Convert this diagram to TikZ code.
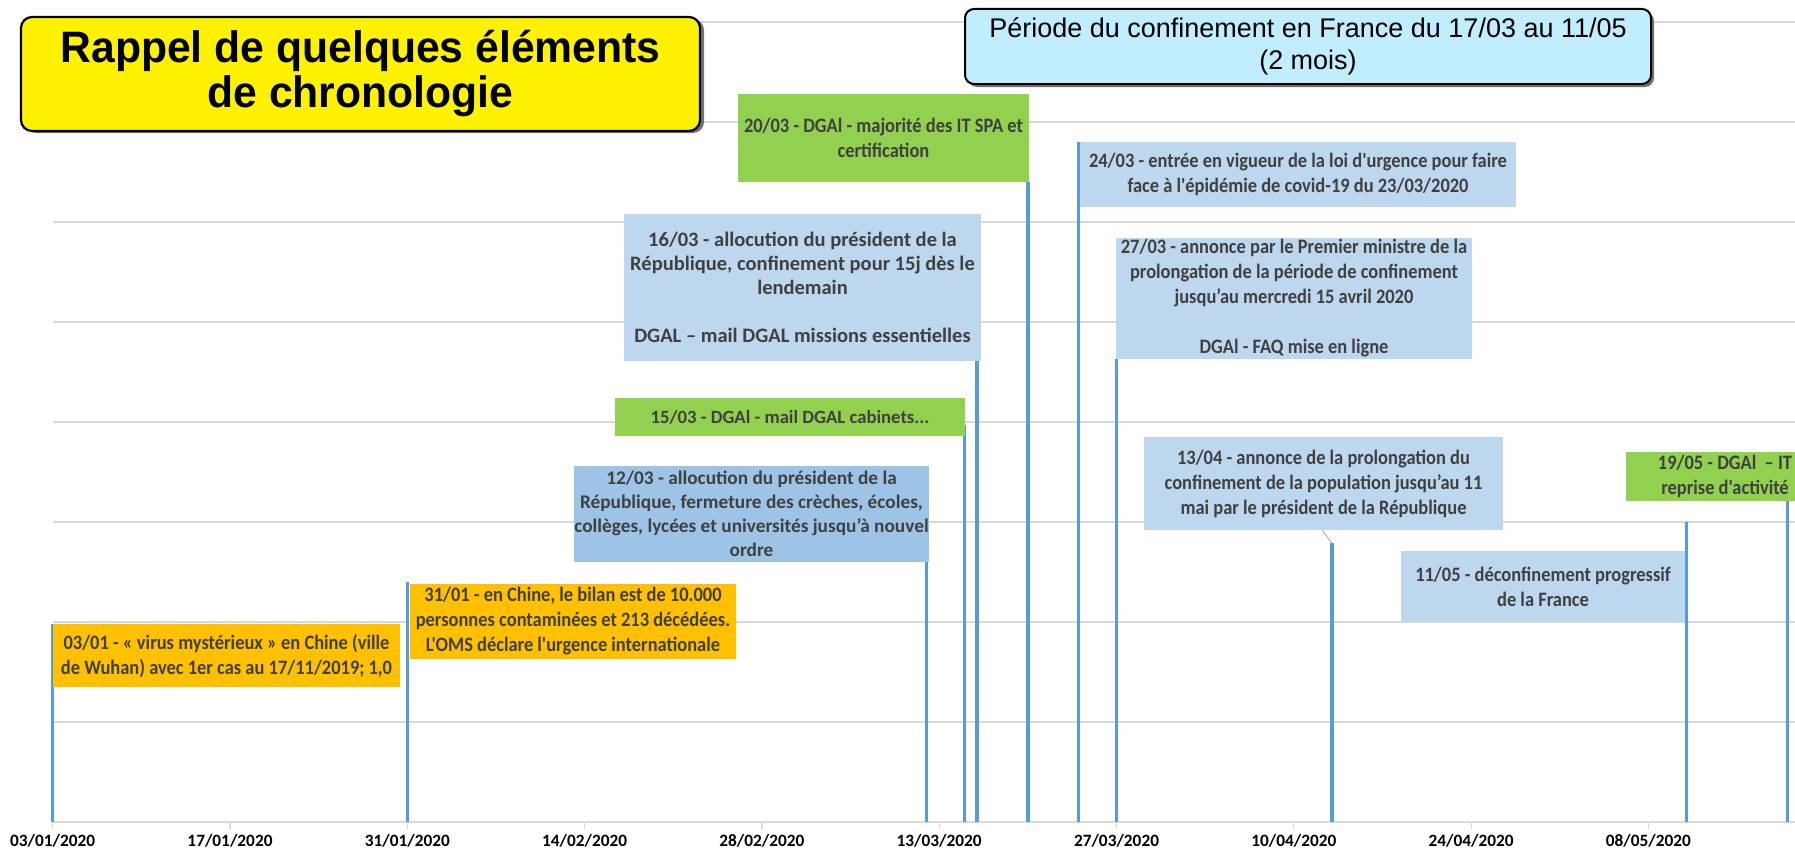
\documentclass[tikz,border=0pt]{standalone}
\usepackage{fontspec}
\setmainfont{Carlito}
\newfontfamily\calN{Carlito}
\newfontfamily\calC{Carlito}[FakeStretch=0.9]
\newfontfamily\arialT{Liberation Sans}[FakeStretch=0.97]
\newfontfamily\arialR{Liberation Sans}
\definecolor{orangeC}{HTML}{FFC000}
\definecolor{greenC}{HTML}{92D050}
\definecolor{lblue}{HTML}{BDD7EE}
\definecolor{mblue}{HTML}{9DC3E6}
\definecolor{stemC}{HTML}{5B9BD5}
\definecolor{gridC}{HTML}{D9D9D9}
\definecolor{txtC}{HTML}{404040}
\definecolor{cyanC}{HTML}{C1EEFF}
\tikzset{
  evN/.style={inner sep=0pt, align=center, text=txtC, font=\calN\bfseries\fontsize{20.5}{24}\selectfont},
  evC/.style={inner sep=0pt, align=center, text=txtC, font=\calC\bfseries\fontsize{20.5}{25}\selectfont},
  stem/.style={draw=stemC, line width=3.5pt},
  gridline/.style={draw=gridC, line width=1.5pt},
  ticklab/.style={inner sep=0pt, font=\calN\bfseries\fontsize{17.3}{20}\selectfont, text=black},
}
\begin{document}
\begin{tikzpicture}[x=1pt,y=-1pt]
\useasboundingbox (0,0) rectangle (1795,851);
\fill[white] (0,0) rectangle (1795,851);
% grid
\foreach \yy in {22,122,222,322,422,522,622,722}{
  \draw[gridline] (53,\yy) -- (1795,\yy);
}
\draw[gridline] (53,822) -- (1795,822);
% ticks
\foreach \xx in {52.7,230,407.3,584.6,761.9,939.2,1116.5,1293.8,1471.1,1648.4}{
  \draw[gridC, line width=1.2pt] (\xx,822) -- (\xx,829);
}
\node[ticklab] (l1) at (52.7,841) {03/01/2020};
\node[ticklab] (l2) at (230,841) {17/01/2020};
\node[ticklab] (l3) at (407.3,841) {31/01/2020};
\node[ticklab] (l4) at (584.6,841) {14/02/2020};
\node[ticklab] (l5) at (761.9,841) {28/02/2020};
\node[ticklab] (l6) at (939.2,841) {13/03/2020};
\node[ticklab] (l7) at (1116.5,841) {27/03/2020};
\node[ticklab] (l8) at (1293.8,841) {10/04/2020};
\node[ticklab] (l9) at (1471.1,841) {24/04/2020};
\node[ticklab] (l10) at (1648.4,841) {08/05/2020};
% stems
\coordinate (a1) at (52.7,822);   \coordinate (t1) at (52.7,624);
\coordinate (a2) at (407.3,822);  \coordinate (t2) at (407.3,582);
\coordinate (a3) at (926.5,822);  \coordinate (t3) at (926.5,562);
\coordinate (a4) at (964.5,822);  \coordinate (t4) at (964.5,425);
\coordinate (a5) at (977.2,822);  \coordinate (t5) at (977.2,361);
\coordinate (a6) at (1027.8,822); \coordinate (t6) at (1027.8,182);
\coordinate (a7) at (1078.5,822); \coordinate (t7) at (1078.5,142);
\coordinate (a8) at (1116.5,822); \coordinate (t8) at (1116.5,359);
\coordinate (a9) at (1331.8,822); \coordinate (t9) at (1331.8,543);
\coordinate (a10) at (1686.4,822); \coordinate (t10) at (1686.4,522);
\coordinate (a11) at (1787.7,822); \coordinate (t11) at (1787.7,501);
\draw[stem, line width=2.5pt] (t1) -- (a1);
\foreach \i in {2,...,11}{\draw[stem] (t\i) -- (a\i);}
% boxes
\node[evC, fill=orangeC, minimum width=347pt, minimum height=63pt] (b1) at (226.5,655.5)
 {03/01 - «~virus mystérieux~» en Chine (ville\\de Wuhan) avec 1er cas au 17/11/2019; 1,0};
\node[evC, fill=orangeC, minimum width=326pt, minimum height=75pt] (b2) at (573,621.5)
 {31/01 - en Chine, le bilan est de 10.000\\personnes contaminées et 213 décédées.\\L'OMS déclare l'urgence internationale};
\node[evN, fill=mblue, minimum width=351pt, minimum height=96pt, font=\calN\bfseries\fontsize{19.3}{24}\selectfont] (b3) at (751.5,514)
 {12/03 - allocution du président de la\\République, fermeture des crèches, écoles,\\collèges, lycées et universités jusqu’à nouvel\\ordre};
\node[evN, fill=greenC, minimum width=350pt, minimum height=38pt, font=\calN\bfseries\fontsize{18.7}{24}\selectfont] (b4) at (790,417)
 {15/03 - DGAl - mail DGAL cabinets...};
\node[evN, fill=lblue, minimum width=357pt, minimum height=147pt] (b5) at (802.5,287.5)
 {16/03 - allocution du président de la\\République, confinement pour 15j dès le\\lendemain\\[24pt]DGAL – mail DGAL missions essentielles};
\node[evC, fill=greenC, minimum width=291pt, minimum height=88pt] (b6) at (883.5,138)
 {20/03 - DGAl - majorité des IT SPA et\\certification};
\node[evC, fill=lblue, minimum width=436pt, minimum height=65pt] (b7) at (1298,174.5)
 {24/03 - entrée en vigueur de la loi d'urgence pour faire\\face à l'épidémie de covid-19 du 23/03/2020};
\node[evC, fill=lblue, minimum width=356pt, minimum height=121pt] (b8) at (1294,298.5)
 {27/03 - annonce par le Premier ministre de la\\prolongation de la période de confinement\\jusqu’au mercredi 15 avril 2020\\[25pt]DGAl - FAQ mise en ligne};
\node[evC, fill=lblue, minimum width=359pt, minimum height=93pt] (b9) at (1323.5,483.5)
 {13/04 - annonce de la prolongation du\\confinement de la population jusqu’au 11\\mai par le président de la République};
\node[evC, fill=lblue, minimum width=284pt, minimum height=71pt] (b10) at (1543,586.5)
 {11/05 - déconfinement progressif\\de la France};
\fill[greenC] (1626,452) rectangle (1800,501);
\node[evC] (b11) at (1725,476.5) {19/05 - DGAl \ – IT\\reprise d'activité};
\coordinate (lk) at (1322,530);
\draw[gray!70, line width=0.8pt] (lk) -- (t9);
% title box
\fill[black!55, rounded corners=11pt] (25,19) rectangle (704,133);
\node[draw=black, line width=2.2pt, fill=yellow, rounded corners=11pt, minimum width=679pt, minimum height=114pt, inner sep=0pt, align=center, font=\arialT\bfseries\fontsize{44}{45}\selectfont] (title) at (360.5,74)
 {Rappel de quelques éléments\\de chronologie};
% confinement box
\fill[black!55, rounded corners=9pt] (968,12) rectangle (1654,87);
\node[draw=black, line width=2pt, fill=cyanC, rounded corners=9pt, minimum width=686pt, minimum height=75pt, inner sep=0pt, align=center, font=\arialR\fontsize{27}{32}\selectfont] (conf) at (1308,46.5)
 {Période du confinement en France du 17/03 au 11/05\\(2 mois)};
\end{tikzpicture}
\end{document}
